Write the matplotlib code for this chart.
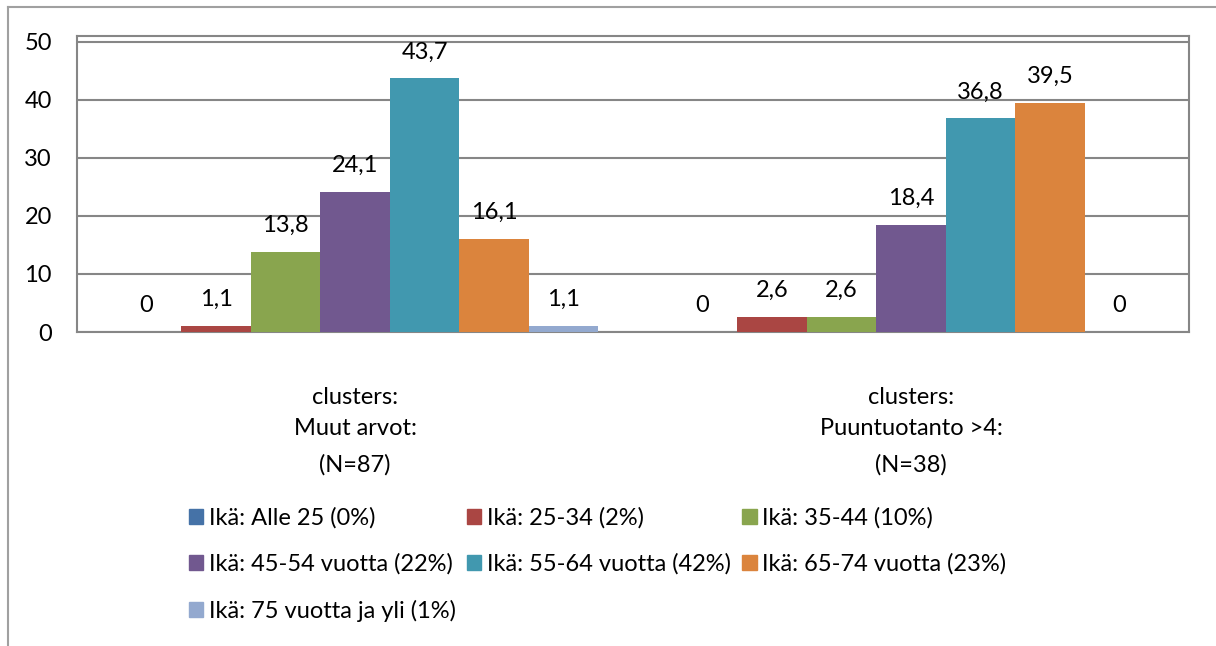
import matplotlib.pyplot as plt
from matplotlib.patches import Patch
from matplotlib.lines import Line2D
import numpy as np

plt.rcParams['font.family'] = ['Lato', 'DejaVu Sans']

# data
groups = ['Muut arvot:', 'Puuntuotanto >4:']
group_n = ['(N=87)', '(N=38)']
series = ['Ikä: Alle 25 (0%)', 'Ikä: 25-34 (2%)', 'Ikä: 35-44 (10%)',
          'Ikä: 45-54 vuotta (22%)', 'Ikä: 55-64 vuotta (42%)',
          'Ikä: 65-74 vuotta (23%)', 'Ikä: 75 vuotta ja yli (1%)']
muut = [0, 1.1, 13.8, 24.1, 43.7, 16.1, 1.1]
puun = [0, 2.6, 2.6, 18.4, 36.8, 39.5, 0]
colors = ['#4572A7', '#AA4643', '#89A54E', '#71588F', '#4198AF', '#DB843D', '#93A9CF']

values = np.array([muut, puun])
fs = 17
grey = '#868686'

fig = plt.figure(figsize=(12.16, 6.46), dpi=100)
ax = fig.add_axes([77/1216, 1 - 332/646, (1189-77)/1216, (332-36)/646])

x = np.arange(len(groups))
w = 1 / 8
handles = []
for i, name in enumerate(series):
    pos = x + (i - 3) * w
    ax.bar(pos, values[:, i], width=w, color=colors[i], zorder=3)
    handles.append(Patch(color=colors[i], label=name))
    for xp, v in zip(pos, values[:, i]):
        ax.annotate(f'{v:g}'.replace('.', ','), (xp, v), xytext=(0, 19),
                    textcoords='offset points', ha='center', va='center',
                    fontsize=fs, zorder=4)

ax.set_xlim(-0.5, 1.5)
ax.set_ylim(0, 51)
ax.set_yticks(range(0, 51, 10))
ax.tick_params(axis='y', length=0, pad=18, labelsize=fs)
ax.tick_params(axis='x', length=0)
ax.set_xticks([])
ax.grid(axis='y', color=grey, linewidth=1.5, zorder=0)
for s in ax.spines.values():
    s.set_color(grey)
    s.set_linewidth(1.5)

tr = ax.get_xaxis_transform()
for xi, g, n in zip(x, groups, group_n):
    ax.text(xi, -0.22, 'clusters:', transform=tr, ha='center', va='center', fontsize=fs)
    ax.text(xi, -0.325, g, transform=tr, ha='center', va='center', fontsize=fs)
    ax.text(xi, -0.449, n, transform=tr, ha='center', va='center', fontsize=fs)

order = [0, 3, 6, 1, 4, 2, 5]
fig.legend([handles[k] for k in order], [series[k] for k in order],
           ncol=3, loc='upper left', bbox_to_anchor=(189/1216, 1 - 507/646),
           frameon=False, fontsize=fs, handlelength=0.6, handleheight=0.6,
           handletextpad=0.25, columnspacing=0.47, labelspacing=1.05,
           borderpad=0, borderaxespad=0)

# chart area border (left and top)
fig.add_artist(Line2D([8/1216, 8/1216], [0, 1 - 7/646], color='#A0A0A0', lw=1.5))
fig.add_artist(Line2D([8/1216, 1], [1 - 7/646, 1 - 7/646], color='#A0A0A0', lw=1.5))

fig.savefig('out.png', dpi=100)
